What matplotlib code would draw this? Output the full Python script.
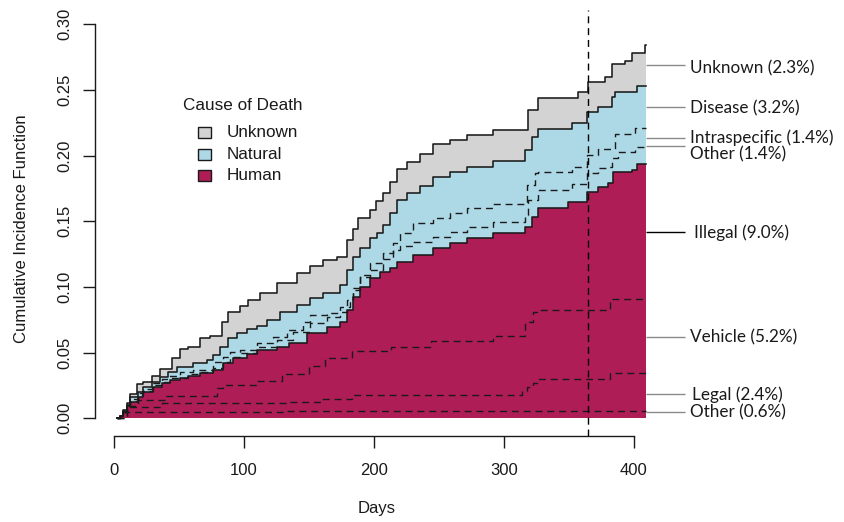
import numpy as np
import matplotlib
matplotlib.use("Agg")
import matplotlib.pyplot as plt
from matplotlib.patches import Rectangle

# ---------------- data ----------------
END_DAY = 410
REF_DAY = 365

days_total = [2, 4.4, 7, 9.5, 12.1, 17.3, 22.1, 28.8, 35.2, 44.2, 50.6, 57.0, 66.0, 73.7, 82.7, 87.8,
              96.8, 103.2, 112.3, 125.1, 140.5, 150.8, 161.0, 171.3, 179.0, 184.0, 188.0, 197.0, 202.0,
              207.2, 212.5, 217.6, 225.3, 235.5, 245.8, 258.6, 271.5, 292.0, 319.0, 326.7, 357.5,
              365.2, 378.0, 383.2, 393.4, 398.6, 408.9]
cif_total = [0, 0.002, 0.006, 0.012, 0.0185, 0.0259, 0.0279, 0.0322, 0.0373, 0.0457, 0.0525, 0.0545,
             0.0609, 0.0626, 0.0735, 0.0811, 0.0855, 0.090, 0.0951, 0.1027, 0.1104, 0.1159, 0.1205,
             0.123, 0.1357, 0.1440, 0.1522, 0.1586, 0.1650, 0.1712, 0.1800, 0.1895, 0.1953, 0.2011,
             0.2088, 0.2118, 0.2156, 0.2194, 0.2346, 0.2435, 0.2481, 0.2562, 0.260, 0.270, 0.272,
             0.2782, 0.2841]

days_natural = [2, 4.4, 7, 9.5, 12.1, 18.5, 22.3, 28.8, 35.2, 41.6, 48.1, 60.9, 71.2, 76.3, 81.4, 87.8,
                94.3, 102.0, 109.7, 117.4, 127.7, 140.5, 150.8, 161.0, 173.9, 179.0, 184.1, 189.3,
                197.0, 202.2, 207.2, 212.4, 217.6, 225.3, 235.5, 245.8, 258.6, 271.5, 292.0, 316.4,
                321.6, 326.7, 352.4, 364.0, 372.9, 383.2, 385.7, 402.5]
cif_natural = [0, 0.002, 0.0055, 0.010, 0.0164, 0.0202, 0.0240, 0.0279, 0.0317, 0.0355, 0.0393, 0.0419,
               0.0444, 0.0482, 0.0545, 0.0609, 0.0647, 0.0677, 0.0702, 0.0748, 0.0811, 0.0862, 0.0913,
               0.0951, 0.1014, 0.1129, 0.1230, 0.1294, 0.137, 0.1408, 0.1471, 0.156, 0.1661, 0.1712,
               0.1768, 0.1839, 0.1877, 0.1915, 0.1958, 0.2042, 0.2143, 0.2202, 0.2245, 0.2333, 0.2371,
               0.2447, 0.2486, 0.2529]

days_intra = [2, 4.4, 7, 9.5, 12.1, 18.5, 22.3, 28.8, 36.5, 41.6, 50.6, 60.9, 76.3, 84.0, 89.1, 97.0,
              109.7, 122.5, 132.8, 145.6, 150.8, 163.6, 173.9, 179.0, 184.1, 189.3, 197.0, 207.2,
              215.0, 220.1, 230.4, 245.8, 258.6, 271.5, 292.0, 317.7, 324.1, 326.7, 352.4, 364.0,
              372.9, 385.7, 401.1]
cif_intra = [0, 0.002, 0.005, 0.0098, 0.015, 0.019, 0.0225, 0.027, 0.030, 0.032, 0.035, 0.037, 0.043,
             0.047, 0.0505, 0.052, 0.0571, 0.0621, 0.0672, 0.0735, 0.0786, 0.0804, 0.0849, 0.090,
             0.0989, 0.109, 0.118, 0.1256, 0.1332, 0.1408, 0.1484, 0.1522, 0.156, 0.1598, 0.1632,
             0.1775, 0.1865, 0.1877, 0.1915, 0.2004, 0.2047, 0.2164, 0.2207]

days_nat_other = [2, 4.4, 7, 9.5, 12.1, 18.5, 22.3, 30.0, 36.5, 42.9, 57.0, 66.0, 76.3, 84.0, 89.0,
                  97.0, 109.7, 125.1, 137.9, 150.8, 163.6, 173.9, 179.0, 181.6, 184.1, 189.3, 197.0,
                  207.2, 215.0, 220.1, 230.4, 245.8, 258.6, 271.5, 292.0, 316.4, 319.0, 326.7, 352.4,
                  364.0, 372.9, 380.6, 383.2, 388.3, 401.1]
cif_nat_other = [0, 0.002, 0.005, 0.0095, 0.0135, 0.0175, 0.021, 0.0255, 0.028, 0.0305, 0.0335,
                 0.0355, 0.038, 0.043, 0.0465, 0.0495, 0.0545, 0.0596, 0.0659, 0.0723, 0.0773,
                 0.0811, 0.0845, 0.090, 0.0976, 0.1078, 0.1129, 0.121, 0.1281, 0.1314, 0.1344,
                 0.1382, 0.142, 0.1458, 0.1496, 0.1547, 0.1661, 0.1737, 0.1783, 0.1865, 0.1903,
                 0.1915, 0.1979, 0.2027, 0.2067]

days_human = [2, 4.4, 7, 9.5, 12.1, 18.5, 22.3, 30.0, 36.5, 42.9, 50.6, 57.0, 66.0, 76.3, 84.0, 91.7,
              102.0, 109.7, 125.0, 134.9, 148.2, 163.6, 173.9, 179.0, 184.1, 189.3, 197.0, 204.7,
              212.4, 217.6, 230.4, 245.8, 258.6, 271.5, 292.0, 316.4, 321.6, 326.7, 349.8, 364.0,
              372.9, 380.6, 384.4, 398.6, 402.5]
cif_human = [0, 0.002, 0.005, 0.009, 0.0126, 0.0164, 0.0202, 0.024, 0.0271, 0.0291, 0.0304, 0.0322,
             0.0342, 0.0368, 0.0419, 0.0457, 0.0489, 0.052, 0.054, 0.0571, 0.0647, 0.0697, 0.0735,
             0.0824, 0.0925, 0.1002, 0.1065, 0.1116, 0.1142, 0.1192, 0.1243, 0.1294, 0.1332, 0.137,
             0.1408, 0.1458, 0.1534, 0.1603, 0.1644, 0.1725, 0.1763, 0.1788, 0.1877, 0.189, 0.1935]

days_vehicle = [2, 9.5, 18.5, 40, 79, 84, 109, 129, 150, 162, 183, 213, 244, 292, 316.3, 322.8, 325.4, 382]
cif_vehicle = [0, 0.009, 0.0139, 0.017, 0.0228, 0.0251, 0.0286, 0.0335, 0.040, 0.046, 0.0512, 0.0545,
               0.0588, 0.0626, 0.0735, 0.0811, 0.0824, 0.0908]

days_legal = [2, 9.5, 37, 132, 159, 183, 313.8, 317.7, 322.8, 325.4, 382]
cif_legal = [0, 0.0084, 0.0114, 0.0125, 0.0145, 0.0177, 0.0205, 0.024, 0.0266, 0.0299, 0.0342]

days_other_h = [2, 4.4, 7, 132]
cif_other_h = [0, 0.002, 0.005, 0.0056]

right_labels = ["Unknown (2.3%)", "Disease (3.2%)", "Intraspecific (1.4%)", "Other (1.4%)",
                "Illegal (9.0%)", "Vehicle (5.2%)", "Legal (2.4%)", "Other (0.6%)"]
right_label_lines = [0.269, 0.237, 0.2135, 0.207, 0.142, 0.062, 0.0185, 0.005]
right_label_text_y = [0.266, 0.236, 0.2136, 0.2005, 0.141, 0.0618, 0.0183, 0.0045]
right_label_indent = [0, 0, 0, 0, 3, 0, 1.5, 0]

legend_labels = ["Unknown", "Natural", "Human"]
COL_HUMAN = "#AE1D55"
COL_NATURAL = "#ADD8E6"
COL_UNKNOWN = "#D3D3D3"
legend_colors = [COL_UNKNOWN, COL_NATURAL, COL_HUMAN]

# ---------------- helpers ----------------
def ext(d, v):
    d = list(d) + [END_DAY]
    v = list(v) + [v[-1]]
    return np.array(d, float), np.array(v, float)

def step_eval(d, v, grid):
    d = np.asarray(d, float); v = np.asarray(v, float)
    idx = np.searchsorted(d, grid, side="right") - 1
    idx = np.clip(idx, 0, len(v) - 1)
    out = v[idx]
    out[grid < d[0]] = 0.0
    return out

W, H = 844, 522
fig = plt.figure(figsize=(W / 100, H / 100), dpi=100)
ax_left, ax_right, ax_top, ax_bot = 95, 844, 10, 436
ax = fig.add_axes([ax_left / W, 1 - ax_bot / H, (ax_right - ax_left) / W, (ax_bot - ax_top) / H])

day0_px, px_per_day = 114.3, 1.298
y0_px, px_per_unit = 418.3, 1314.0
ax.set_xlim((ax_left - day0_px) / px_per_day, (ax_right - day0_px) / px_per_day)
ax.set_ylim(-(ax_bot - y0_px) / px_per_unit, (y0_px - ax_top) / px_per_unit)

grid = np.unique(np.concatenate([days_total, days_natural, days_human, [END_DAY]]))
grid = grid[grid <= END_DAY]
h = step_eval(days_human, cif_human, grid)
n = step_eval(days_natural, cif_natural, grid)
t = step_eval(days_total, cif_total, grid)

ax.fill_between(grid, 0, h, step="post", color=COL_HUMAN, lw=0, zorder=1)
ax.fill_between(grid, h, n, step="post", color=COL_NATURAL, lw=0, zorder=1)
ax.fill_between(grid, n, t, step="post", color=COL_UNKNOWN, lw=0, zorder=1)

solid_kw = dict(where="post", color="#1a1a1a", lw=1.15, zorder=3)
dash_kw = dict(where="post", color="#1a1a1a", lw=1.0, ls=(0, (5, 3.5)), zorder=2)
for d, v in [(days_total, cif_total), (days_natural, cif_natural), (days_human, cif_human)]:
    dd, vv = ext(d, v)
    ax.step(dd, vv, **solid_kw)
for d, v in [(days_intra, cif_intra), (days_nat_other, cif_nat_other), (days_vehicle, cif_vehicle),
             (days_legal, cif_legal), (days_other_h, cif_other_h)]:
    dd, vv = ext(d, v)
    ax.step(dd, vv, **dash_kw)

ax.axvline(REF_DAY, color="black", lw=1.0, ls=(0, (5, 3.5)), zorder=4)

# right labels
line_x0 = END_DAY
line_x1 = (685 - day0_px) / px_per_day
text_x = (690.5 - day0_px) / px_per_day
for i, (lab, ly, ty, ind) in enumerate(zip(right_labels, right_label_lines, right_label_text_y, right_label_indent)):
    col = "black" if lab.startswith("Illegal") else "#8a8a8a"
    ax.plot([line_x0, line_x1], [ly, ly], color=col, lw=1.0, zorder=2, solid_capstyle="butt")
    ax.text(text_x + ind / px_per_day, ty, lab, fontsize=12.3, family=["Lato", "DejaVu Sans"],
            va="center", ha="left", color="#1a1a1a")

# axes styling
for s in ["top", "right"]:
    ax.spines[s].set_visible(False)
ax.spines["left"].set_bounds(0, 0.30)
ax.spines["bottom"].set_bounds(0, 400)
for s in ["left", "bottom"]:
    ax.spines[s].set_linewidth(1.0)
    ax.spines[s].set_color("#1a1a1a")
ax.set_xticks([0, 100, 200, 300, 400])
ax.set_yticks([0, 0.05, 0.10, 0.15, 0.20, 0.25, 0.30])
ax.set_yticklabels(["0.00", "0.05", "0.10", "0.15", "0.20", "0.25", "0.30"])
ax.tick_params(direction="out", length=8.6, width=1.0, color="#1a1a1a", labelsize=12,
               labelcolor="#1a1a1a")
ax.tick_params(axis="x", pad=11)
ax.tick_params(axis="y", pad=8)
for lbl in ax.get_yticklabels():
    lbl.set_rotation(90)
    lbl.set_va("center")
    lbl.set_family("Liberation Sans")
for lbl in ax.get_xticklabels():
    lbl.set_family("Liberation Sans")

fig.text(377 / W, 1 - 509 / H, "Days", ha="center", va="center", fontsize=12,
         family="Liberation Sans", color="#1a1a1a")
fig.text(22 / W, 1 - 229 / H, "Cumulative Incidence Function", ha="center", va="center",
         rotation=90, fontsize=12, family="Liberation Sans", color="#1a1a1a")

# legend (manual)
fig.text(183 / W, 1 - 106 / H, "Cause of Death", ha="left", va="center", fontsize=12.3,
         family="Liberation Sans", color="#1a1a1a")
row_y = [132.7, 154.5, 176.0]
for lab, col, ry in zip(legend_labels, legend_colors, row_y):
    fig.add_artist(Rectangle((198 / W, 1 - (ry + 5.5) / H), 13 / W, 11 / H, transform=fig.transFigure,
                             facecolor=col, edgecolor="#1a1a1a", lw=1.0))
    fig.text(227 / W, 1 - ry / H, lab, ha="left", va="center", fontsize=12.3,
             family="Liberation Sans", color="#1a1a1a")

fig.savefig("out.png", dpi=100)
